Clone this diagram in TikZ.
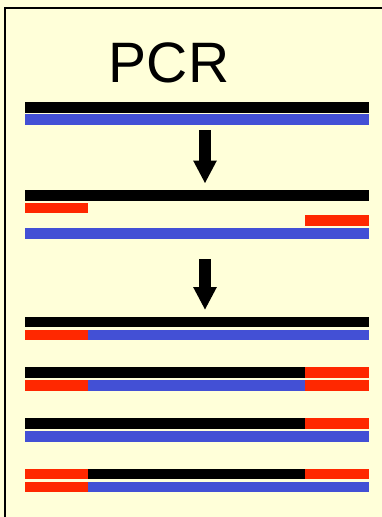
\documentclass[tikz,border=0pt]{standalone}
\usepackage{fontspec}
\setmainfont{Liberation Sans}
\usetikzlibrary{arrows.meta}
\definecolor{bg}{HTML}{FFFFD9}
\definecolor{dblue}{HTML}{4350D5}
\definecolor{dred}{HTML}{FF2800}
\begin{document}
\begin{tikzpicture}[x=1pt,y=-1pt,
  bar/.style={inner sep=0pt, outer sep=0pt, minimum height=10.6pt, anchor=north west, draw=none},
  full/.style={bar, minimum width=343.7pt},
  prim/.style={bar, minimum width=63.3pt, fill=dred},
  mid/.style={bar, minimum width=217pt},
  longpart/.style={bar, minimum width=280.4pt},
  bigarrow/.style={line width=12pt, -{Triangle[width=22pt,length=23pt]}, shorten >=0pt}]
\useasboundingbox (0,0) rectangle (382,517);
\fill[bg] (0,0) rectangle (382,517);
\begin{scope}
\clip (0,0) rectangle (382,517);
\draw[line width=2.6pt] (5,530) -- (5,8) -- (395,8);
\end{scope}
\node[anchor=base, font=\fontsize{57}{60}\selectfont] (title) at (169,82.3) {PCR};
% group 1
\node[full, fill=black] (g1a) at (25,102) {};
\node[full, fill=dblue] (g1b) at (25,114.4) {};
% arrow 1
\coordinate (a1s) at (205,130);
\coordinate (a1e) at (205,183.5);
\draw[bigarrow] (a1s) -- (a1e);
% group 2
\node[full, fill=black] (g2a) at (25,190.3) {};
\node[prim] (g2p1) at (25,202.8) {};
\node[prim] (g2p2) at (305.4,215.4) {};
\node[full, fill=dblue] (g2b) at (25,228.2) {};
% arrow 2
\coordinate (a2s) at (205,259);
\coordinate (a2e) at (205,310);
\draw[bigarrow] (a2s) -- (a2e);
% group 3 row 1
\node[full, fill=black] (r1a) at (25,316.7) {};
\node[prim] (r1p) at (25,329.5) {};
\node[longpart, fill=dblue] (r1b) at (88.3,329.5) {};
% row 2
\node[longpart, fill=black] (r2a) at (25,367.4) {};
\node[prim] (r2p1) at (305.4,367.4) {};
\node[prim] (r2p2) at (25,380.2) {};
\node[mid, fill=dblue] (r2b) at (88.3,380.2) {};
\node[prim] (r2p3) at (305.4,380.2) {};
% row 3
\node[longpart, fill=black] (r3a) at (25,418) {};
\node[prim] (r3p) at (305.4,418) {};
\node[full, fill=dblue] (r3b) at (25,430.9) {};
% row 4
\node[prim] (r4p1) at (25,468.8) {};
\node[mid, fill=black] (r4a) at (88.3,468.8) {};
\node[prim] (r4p2) at (305.4,468.8) {};
\node[prim] (r4p3) at (25,481.5) {};
\node[longpart, fill=dblue] (r4b) at (88.3,481.5) {};
\end{tikzpicture}
\end{document}
